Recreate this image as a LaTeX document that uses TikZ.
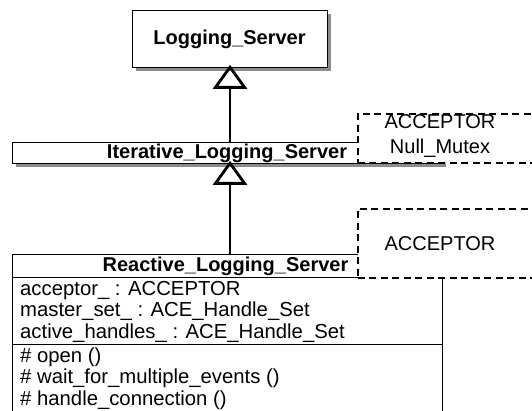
\documentclass[tikz,border=0pt]{standalone}
\usepackage{fontspec}
\setmainfont{Liberation Sans}
\usetikzlibrary{arrows.meta,calc,shadows}
\begin{document}
\begin{tikzpicture}[x=1pt,y=-1pt,
  umlbox/.style={draw, line width=1.3pt, fill=white, inner sep=0pt, anchor=north west},
  shadowed/.style={drop shadow={shadow xshift=3.5pt, shadow yshift=-3.5pt, fill=black!45, opacity=1}},
  classname/.style={font=\fontsize{20}{22}\selectfont\bfseries, anchor=base, inner sep=0pt},
  member/.style={font=\fontsize{20.3}{22}\selectfont, anchor=base west, inner sep=0pt},
  parambox/.style={draw, dash pattern=on 7pt off 4.5pt, line width=1.8pt, fill=white, inner sep=0pt, anchor=north west},
  paramtext/.style={font=\fontsize{20}{22}\selectfont, anchor=base, inner sep=0pt},
  generalize/.style={line width=2.8pt, -{Triangle[open, length=24pt, width=34pt]}}
]
\useasboundingbox (0,0) rectangle (532,411);
\clip (0,0) rectangle (532,411);

% base class
\node[umlbox, shadowed, minimum width=195pt, minimum height=57pt] (ls) at (132,10) {};
\node[classname] (lsname) at (229.5,45) {Logging\_Server};

% iterative server with its template parameters
\node[umlbox, shadowed, minimum width=430pt, minimum height=21pt] (ils) at (12,142) {};
\node[classname] (ilsname) at (227,159) {Iterative\_Logging\_Server};
\node[parambox, minimum width=200pt, minimum height=49pt] (ilsparam) at (357,113) {};
\node[paramtext] (ilsp1) at (440,128.5) {ACCEPTOR};
\node[paramtext] (ilsp2) at (440,153.5) {Null\_Mutex};

% reactive server: name, attributes and operations
\node[umlbox, minimum width=430pt, minimum height=23pt] (rls) at (12,254) {};
\node[umlbox, minimum width=430pt, minimum height=67pt] (rlsattr) at (12,277) {};
\node[umlbox, minimum width=430pt, minimum height=90pt] (rlsops) at (12,344) {};
\node[parambox, minimum width=200pt, minimum height=69pt] (rlsparam) at (357,208) {};
\node[paramtext] (rlsp1) at (440,250.5) {ACCEPTOR};
\node[classname] (rlsname) at (225.5,272) {Reactive\_Logging\_Server};

\node[member] (a1) at (20,295) {acceptor\_ : ACCEPTOR};
\node[member] (a2) at (20,316.5) {master\_set\_ : ACE\_Handle\_Set};
\node[member] (a3) at (20,338) {active\_handles\_ : ACE\_Handle\_Set};
\node[member] (o1) at (20,362) {\# open ()};
\node[member] (o2) at (20,383.5) {\# wait\_for\_multiple\_events ()};
\node[member] (o3) at (20,405) {\# handle\_connection ()};

% inheritance arrows
\coordinate (ax) at (230,0);
\draw[generalize, shorten >=-3.5pt] (ax |- ils.north) -- (ax |- ls.south);
\draw[generalize, shorten >=-3.5pt] (ax |- rls.north) -- (ax |- ils.south);
\end{tikzpicture}
\end{document}
